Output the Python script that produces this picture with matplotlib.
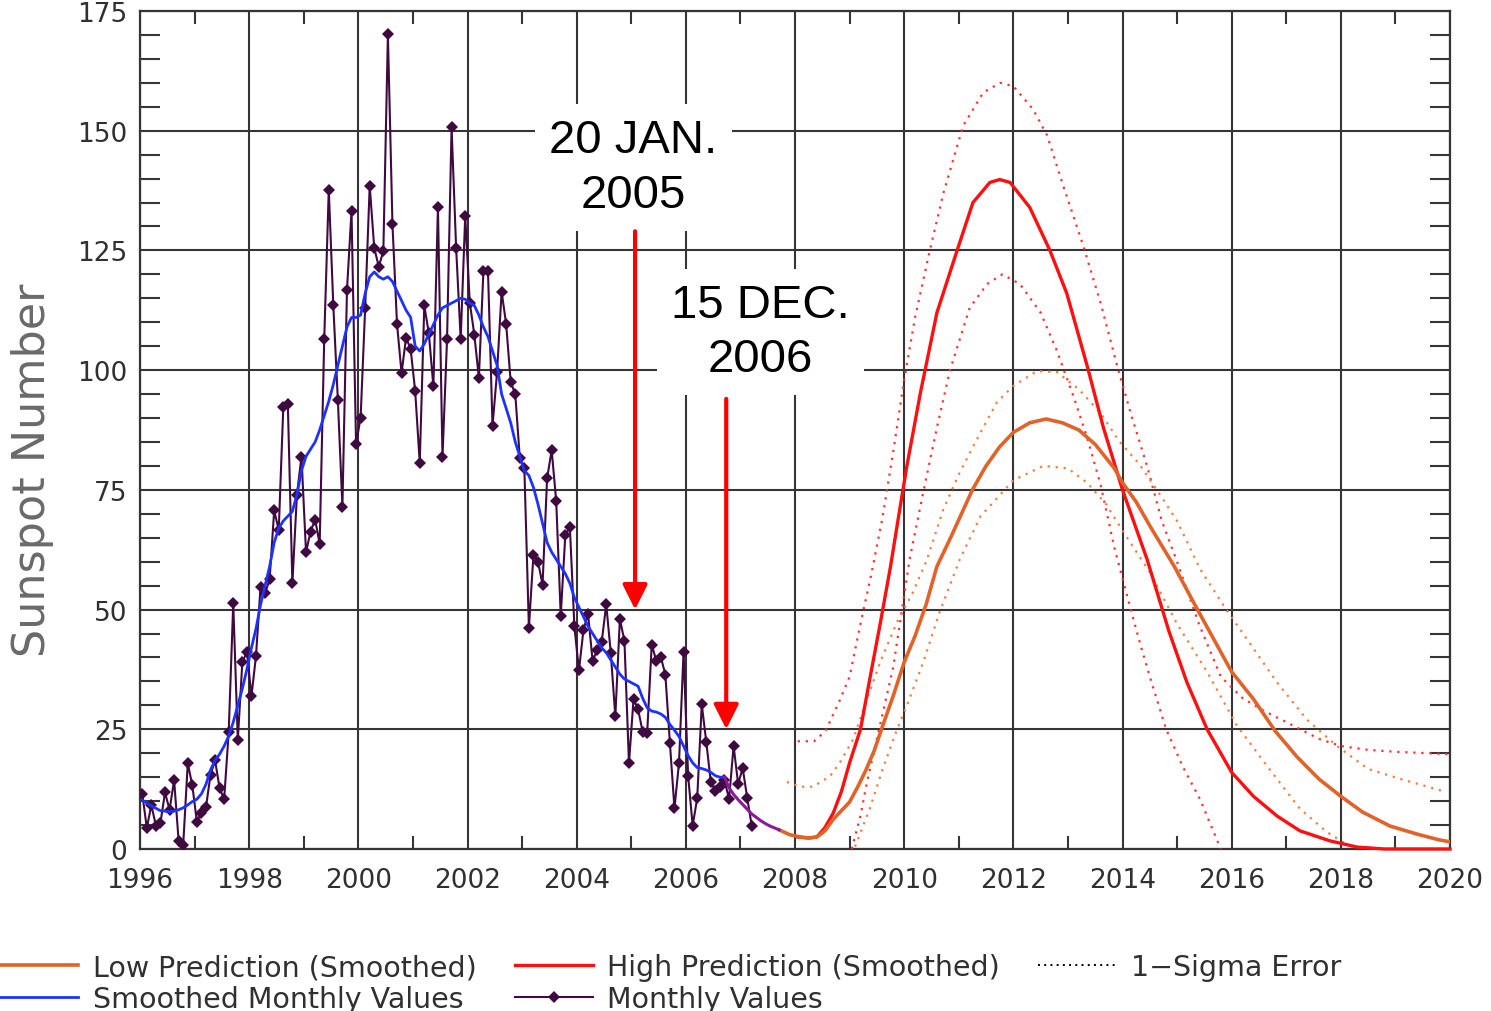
import matplotlib
matplotlib.use("Agg")
import matplotlib.pyplot as plt
from matplotlib.lines import Line2D
from matplotlib.ticker import MultipleLocator

# ---- observed monthly sunspot numbers, Jan 1996 .. Mar 2007 ----
monthly_values = [
    11.5, 4.4, 9.2, 4.8, 5.5, 11.8, 8.2, 14.4, 1.6, 0.9, 17.9, 13.3,          # 1996
    5.7, 7.6, 8.7, 15.5, 18.5, 12.7, 10.4, 24.4, 51.3, 22.8, 39.0, 41.2,      # 1997
    31.9, 40.3, 54.8, 53.4, 56.3, 70.7, 66.6, 92.2, 92.9, 55.5, 74.0, 81.9,   # 1998
    62.0, 66.3, 68.8, 63.7, 106.4, 137.7, 113.5, 93.7, 71.5, 116.7, 133.2, 84.6,  # 1999
    90.1, 112.9, 138.5, 125.5, 121.6, 124.9, 170.1, 130.5, 109.7, 99.4, 106.8, 104.4,  # 2000
    95.6, 80.6, 113.5, 107.7, 96.6, 134.0, 81.8, 106.4, 150.7, 125.5, 106.5, 132.2,  # 2001
    114.1, 107.4, 98.4, 120.7, 120.8, 88.3, 99.6, 116.4, 109.6, 97.5, 95.0, 81.6,  # 2002
    79.5, 46.2, 61.5, 60.0, 55.2, 77.4, 83.3, 72.7, 48.7, 65.5, 67.3, 46.5,   # 2003
    37.3, 45.8, 49.1, 39.3, 41.5, 43.2, 51.1, 40.9, 27.7, 48.0, 43.5, 17.9,   # 2004
    31.3, 29.2, 24.5, 24.2, 42.7, 39.3, 40.1, 36.4, 22.1, 8.5, 18.0, 41.2,    # 2005
    15.3, 4.9, 10.6, 30.2, 22.3, 13.9, 12.2, 12.9, 14.4, 10.4, 21.5, 13.6,    # 2006
    16.9, 10.6, 4.8,                                                          # 2007
]

# ---- 13-month smoothed values, Jan 1996 .. Sep 2006 ----
smoothed_values = [
    10.2, 9.6, 9.0, 8.5, 8.0, 7.9, 7.8, 7.9, 8.2, 8.6, 9.2, 9.9,
    10.4, 11.5, 13.5, 16.5, 18.5, 19.8, 21.5, 23.6, 26.5, 30.0, 33.5, 37.5,
    42.0, 46.0, 51.0, 55.0, 59.0, 64.0, 67.0, 68.5, 69.5, 70.5, 74.0, 79.0,
    82.0, 83.5, 85.0, 87.5, 90.5, 93.5, 97.0, 101.0, 105.0, 109.0, 111.0, 111.0,
    111.5, 116.0, 119.5, 120.5, 119.5, 119.0, 119.5, 118.5, 116.5, 114.5, 112.5, 111.0,
    105.0, 104.0, 105.5, 107.5, 109.5, 111.5, 113.0, 113.5, 114.0, 114.5, 115.0, 114.8,
    114.0, 113.5, 111.5, 109.0, 107.0, 104.0, 101.0, 95.0, 92.0, 89.0, 85.0, 82.0,
    79.0, 78.0, 75.5, 72.0, 68.0, 64.0, 62.0, 60.5, 59.0, 57.5, 55.5, 52.5,
    50.5, 48.5, 46.5, 45.0, 43.5, 42.0, 41.0, 39.5, 38.0, 36.5, 35.5, 35.0,
    34.5, 34.0, 31.5, 29.5, 28.8, 28.6, 28.2, 27.5, 26.0, 24.8, 23.5, 21.5,
    19.5, 18.0, 17.0, 16.8, 16.5, 16.0, 15.3, 15.0, 15.0,
]

# ---- smoothed values carried forward, Sep 2006 .. Sep 2007 ----
extended_start_month = 128  # months after Jan 1996
extended_values = [15.0, 12.8, 11.4, 10.3, 9.3, 8.3, 7.3, 6.6, 5.9, 5.3, 4.8, 4.4, 4.0]

# ---- cycle 24 predictions ----
low_years = [2007.71, 2007.9, 2008.1, 2008.25, 2008.4, 2008.55, 2008.7, 2008.85, 2009.0,
             2009.15, 2009.3, 2009.45, 2009.6, 2009.8, 2010.0, 2010.2, 2010.4, 2010.6,
             2010.85, 2011.05, 2011.25, 2011.5, 2011.75, 2012.0, 2012.3, 2012.6, 2012.9,
             2013.2, 2013.5, 2013.85, 2014.0, 2014.25, 2014.5, 2014.95, 2015.35, 2015.6,
             2016.0, 2016.4, 2016.8, 2017.2, 2017.6, 2018.0, 2018.4, 2018.9, 2019.4,
             2019.8, 2020.0]
low_values = [4.0, 3.0, 2.5, 2.3, 2.5, 3.8, 6.2, 8.0, 9.8, 13.0, 16.5, 20.5, 25.5, 32.0,
              39.0, 44.5, 51.0, 59.0, 65.0, 70.0, 75.0, 80.0, 84.0, 87.0, 89.0, 89.8, 89.0,
              87.5, 84.5, 79.5, 76.5, 72.5, 67.5, 59.0, 50.5, 45.3, 37.0, 31.3, 24.6, 19.2,
              14.6, 11.0, 7.7, 4.8, 3.1, 1.9, 1.5]

high_years = [2008.05, 2008.25, 2008.4, 2008.55, 2008.7, 2008.85, 2009.0, 2009.2, 2009.37,
              2009.56, 2009.75, 2009.92, 2010.05, 2010.3, 2010.6, 2010.97, 2011.26, 2011.57,
              2011.75, 2011.94, 2012.3, 2012.67, 2012.98, 2013.35, 2013.65, 2013.9, 2014.0,
              2014.45, 2014.85, 2015.18, 2015.55, 2016.0, 2016.4, 2016.83, 2017.25, 2017.8,
              2018.3, 2018.8, 2020.0]
high_values = [2.5, 2.3, 2.5, 4.5, 7.5, 12.0, 18.0, 25.0, 35.5, 47.0, 59.0, 71.0, 80.0,
               95.4, 112.0, 125.0, 135.0, 139.2, 139.8, 139.2, 134.0, 125.0, 116.0, 101.0,
               88.0, 78.7, 75.0, 60.5, 45.5, 34.8, 25.0, 16.0, 11.0, 6.9, 3.8, 1.7, 0.4,
               0.0, 0.0]

# 1-sigma envelopes
high_upper_years = [2008.05, 2008.35, 2008.55, 2008.8, 2009.0, 2009.2, 2009.4, 2009.6,
                    2009.8, 2010.0, 2010.2, 2010.45, 2010.72, 2011.08, 2011.45, 2011.76,
                    2012.0, 2012.36, 2012.62, 2012.9, 2013.28, 2013.6, 2013.9, 2014.15,
                    2014.45, 2014.72, 2015.0, 2015.4, 2015.8, 2016.2, 2016.6, 2017.0,
                    2017.6, 2018.0, 2018.5, 2019.0, 2020.0]
high_upper_values = [22.5, 22.5, 24.5, 30.5, 36.0, 47.0, 57.5, 69.0, 83.0, 98.0, 111.0,
                     124.0, 137.0, 151.0, 158.0, 160.0, 159.3, 154.5, 149.0, 139.0, 126.0,
                     114.0, 101.0, 91.0, 80.0, 68.5, 60.0, 47.0, 36.0, 31.5, 28.8, 26.5,
                     23.0, 21.5, 20.7, 20.3, 19.8]

high_lower_years = [2009.04, 2009.2, 2009.32, 2009.56, 2009.8, 2009.98, 2010.1, 2010.35,
                    2010.6, 2010.84, 2011.2, 2011.52, 2011.8, 2012.12, 2012.5, 2012.8,
                    2013.1, 2013.35, 2013.6, 2013.85, 2014.14, 2014.32, 2014.5, 2014.8,
                    2015.1, 2015.42, 2015.8]
high_lower_values = [0.0, 7.0, 14.0, 26.0, 38.0, 51.5, 60.5, 74.5, 88.0, 100.0, 113.0,
                     118.0, 120.0, 118.0, 112.0, 104.0, 94.6, 86.0, 76.0, 63.0, 50.5, 43.0,
                     36.0, 25.0, 17.3, 10.4, 0.0]

low_upper_years = [2007.85, 2008.1, 2008.33, 2008.64, 2008.82, 2009.07, 2009.25, 2009.56,
                   2009.87, 2010.16, 2010.42, 2010.72, 2011.02, 2011.4, 2011.7, 2012.0,
                   2012.43, 2012.8, 2013.2, 2013.6, 2013.95, 2014.3, 2014.63, 2015.0,
                   2015.42, 2015.9, 2016.33, 2016.83, 2017.38, 2017.93, 2018.5, 2019.1,
                   2019.9]
low_upper_values = [14.0, 13.0, 13.0, 15.2, 18.0, 23.0, 29.0, 39.0, 47.4, 53.6, 60.5, 71.0,
                    78.7, 87.0, 93.3, 96.7, 99.8, 99.6, 96.0, 91.0, 85.0, 80.5, 75.0, 68.5,
                    58.5, 50.0, 43.0, 34.8, 27.0, 21.5, 16.7, 14.6, 12.0]

low_lower_years = [2009.1, 2009.37, 2009.6, 2009.87, 2010.05, 2010.35, 2010.65, 2011.02,
                   2011.4, 2011.76, 2012.0, 2012.55, 2013.0, 2013.35, 2013.7, 2014.0,
                   2014.5, 2015.0, 2015.55, 2016.1, 2016.65, 2017.25, 2017.75, 2018.1]
low_lower_values = [0.5, 8.4, 16.5, 25.0, 30.0, 39.0, 49.5, 60.5, 69.5, 74.0, 77.0, 80.0,
                    79.5, 76.5, 72.0, 66.5, 57.8, 47.0, 37.0, 25.7, 17.3, 8.4, 3.5, 1.0]

# ---- annotations ----
event_labels = ["20 JAN.\n2005", "15 DEC.\n2006"]
event_years = [2005.07, 2006.74]
event_tip_values = [50, 25]
event_label_pos = [(2005.04, 142.3), (2007.36, 108.0)]
event_arrow_start = [129.0, 94.0]

x_ticks = list(range(1996, 2021, 2))
y_ticks = [0, 25, 50, 75, 100, 125, 150, 175]


def month_centres(start_month, n):
    return [1996 + (start_month + i + 0.5) / 12.0 for i in range(n)]


C_MONTHLY = "#3f0a40"
C_SMOOTH = "#1e32ff"
C_EXT = "#8a1a9a"
C_HIGH = "#ff1010"
C_LOW = "#e0642a"
C_HIGH_DOT = "#ff3030"
C_LOW_DOT = "#e8804a"
C_AXIS = "#353535"

fig = plt.figure(figsize=(14.91, 10.12), dpi=100)
ax = fig.add_axes([140 / 1491, 162 / 1012, 1310 / 1491, 838 / 1012])

dot = (0, (1, 2.6))
ax.plot(high_upper_years, high_upper_values, color=C_HIGH_DOT, lw=1.6, ls=dot, zorder=3)
ax.plot(high_lower_years, high_lower_values, color=C_HIGH_DOT, lw=1.6, ls=dot, zorder=3)
ax.plot(low_upper_years, low_upper_values, color=C_LOW_DOT, lw=1.6, ls=dot, zorder=3)
ax.plot(low_lower_years, low_lower_values, color=C_LOW_DOT, lw=1.6, ls=dot, zorder=3)

h_high, = ax.plot(high_years, high_values, color=C_HIGH, lw=2.4, zorder=4,
                  label="High Prediction (Smoothed)", clip_on=False)
h_low, = ax.plot(low_years, low_values, color=C_LOW, lw=2.6, zorder=4,
                 label="Low Prediction (Smoothed)")

h_month, = ax.plot(month_centres(0, len(monthly_values)), monthly_values,
                   color=C_MONTHLY, lw=1.5, marker="D", ms=6, mew=0,
                   zorder=5, label="Monthly Values")
h_smooth, = ax.plot(month_centres(0, len(smoothed_values)), smoothed_values,
                    color=C_SMOOTH, lw=2.0, zorder=6, label="Smoothed Monthly Values")
ax.plot(month_centres(extended_start_month, len(extended_values)), extended_values,
        color=C_EXT, lw=2.2, zorder=6)

ax.set_xlim(1996, 2020)
ax.set_ylim(0, 175)

ax.set_xticks(x_ticks)
ax.set_yticks(y_ticks)
ax.xaxis.set_minor_locator(MultipleLocator(1))
ax.yaxis.set_minor_locator(MultipleLocator(5))
ax.tick_params(which="major", length=0, labelsize=19, labelcolor="#303030")
ax.tick_params(axis="x", which="major", pad=13)
ax.tick_params(axis="y", which="major", pad=9)
ax.tick_params(axis="x", which="minor", direction="in", length=9.5, width=1.5,
               color=C_AXIS, top=True, bottom=True)
ax.tick_params(axis="y", which="minor", direction="in", length=14.5, width=1.5,
               color=C_AXIS, left=True, right=True)
ax.grid(True, which="major", color=C_AXIS, lw=1.5)
ax.set_axisbelow(True)
for s in ax.spines.values():
    s.set_color(C_AXIS)
    s.set_linewidth(1.6)

ax.set_ylabel("Sunspot Number", fontsize=32, color="#6a6a6a", labelpad=14)
ax.yaxis.set_label_coords(-0.066, 0.453)

for label, (tx, ty) in zip(event_labels, event_label_pos):
    ax.text(tx, ty, label, ha="center", va="center", fontsize=34,
            family="Liberation Sans", color="black", zorder=8, linespacing=1.3,
            bbox=dict(boxstyle="square,pad=0.3", fc="white", ec="none"))
for x, tip, start in zip(event_years, event_tip_values, event_arrow_start):
    ax.annotate("", xy=(x, tip), xytext=(x, start), zorder=9,
                arrowprops=dict(arrowstyle="-|>,head_length=1.5,head_width=0.75",
                                color="#ff0000", lw=3.0, shrinkA=0, shrinkB=0))

h_sigma = Line2D([], [], color="black", lw=1.4, ls=(0, (1, 2.2)), label="1\u2212Sigma Error")
handles = [h_low, h_smooth, h_high, h_month, h_sigma]
leg = fig.legend(handles=handles, labels=[h.get_label() for h in handles],
                 loc="upper left", bbox_to_anchor=(0.0, 0.057), ncol=3,
                 frameon=False, fontsize=20.5, handlelength=2.75, handletextpad=0.5,
                 columnspacing=1.35, labelspacing=0.12, borderpad=0, borderaxespad=0)
for t in leg.get_texts():
    t.set_color("#303030")

fig.savefig("out.png", dpi=100)
